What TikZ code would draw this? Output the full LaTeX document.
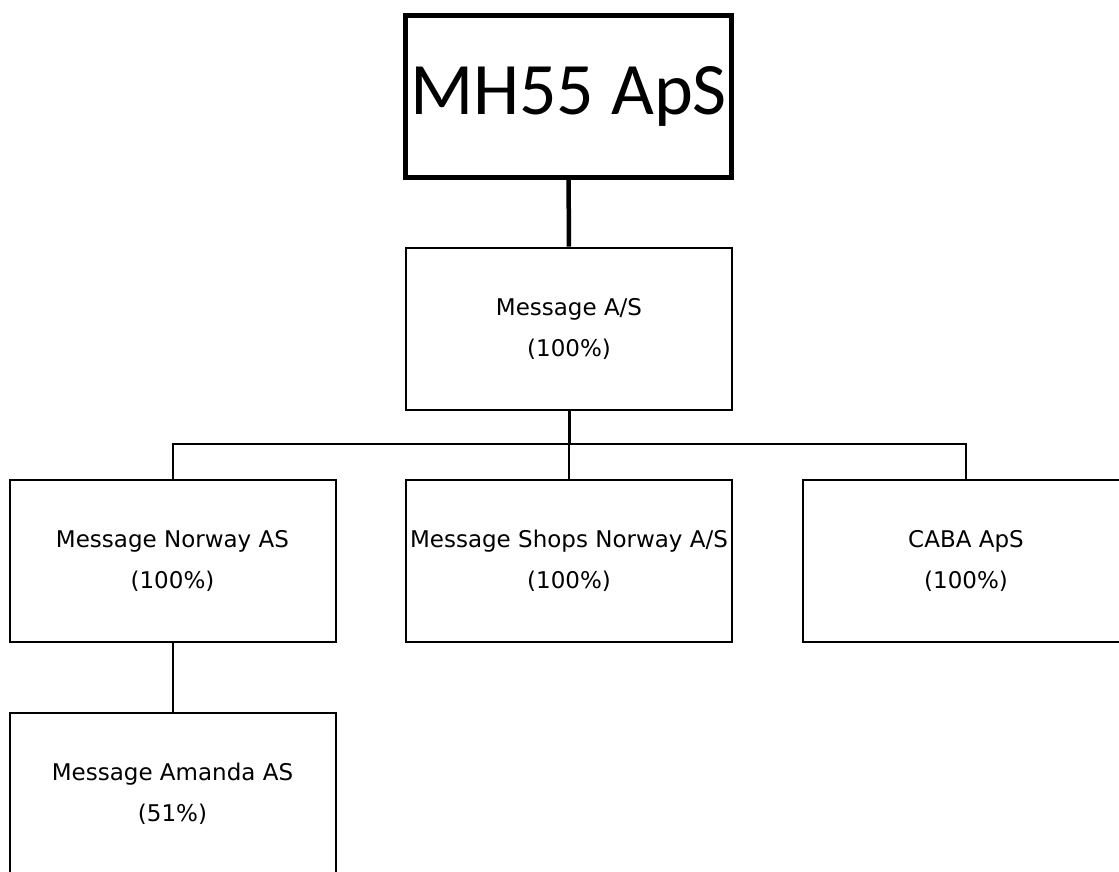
\documentclass[tikz,border=0pt]{standalone}
\usepackage{fontspec}
\newfontfamily\labelfont{DejaVu Sans}
\newfontfamily\titlefont{Carlito}
\begin{document}
\begin{tikzpicture}[x=1pt, y=-1pt,
		company/.style={draw, line width=2pt, minimum width=326pt, minimum height=162pt, inner sep=0pt, align=center, font=\labelfont\fontsize{23}{41}\selectfont},
		link/.style={line width=2pt}]
	\useasboundingbox (0,0) rectangle (1119,871);
	\clip (0,0) rectangle (1119,871);
	% owner on top
	\node[company, line width=5pt, font=\titlefont\fontsize{74}{80}\selectfont] (mh) at (568.5,96) {MH55 ApS};
	\node[company] (msg) at (569,328.5) {Message A/S\\(100\%)};
	% subsidiaries
	\node[company] (nor) at (172.5,561) {Message Norway AS\\(100\%)};
	\node[company] (shops) at (569,561) {Message Shops Norway A/S\\(100\%)};
	\node[company] (caba) at (966,561) {CABA ApS\\(100\%)};
	\node[company] (amanda) at (172.5,794) {Message Amanda AS\\(51\%)};
	\coordinate (fork) at (569,444);
	\draw[link, line width=4.5pt] (mh) -- (msg);
	\draw[link, line width=3pt] (msg) -- (fork);
	\draw[link] (nor) |- (fork) -| (caba);
	\draw[link] (fork) -- (shops);
	\draw[link] (nor) -- (amanda);
\end{tikzpicture}
\end{document}
